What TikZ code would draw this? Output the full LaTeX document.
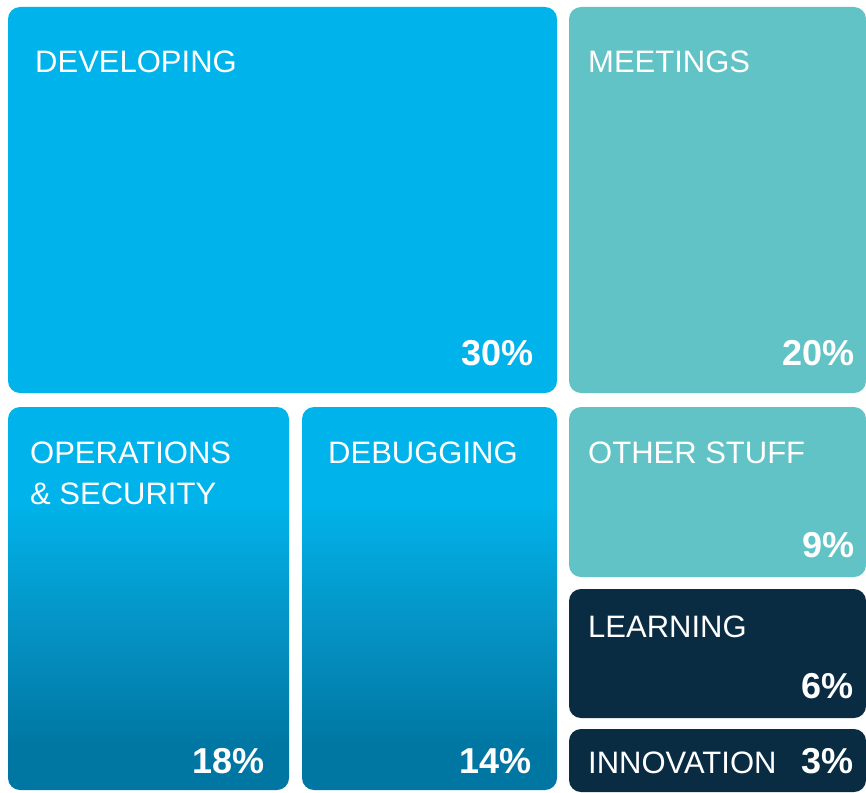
\documentclass[tikz,border=0pt]{standalone}
\usepackage{fontspec}
\setmainfont{Liberation Sans}
\definecolor{cyanbox}{HTML}{00B4EB}
\definecolor{tealbox}{HTML}{62C3C7}
\definecolor{darkbox}{HTML}{0A2C42}
\definecolor{deepblue}{HTML}{0077A3}
\definecolor{midblue}{HTML}{0596C8}
\pgfdeclareverticalshading{opsgrad}{100bp}{color(0bp)=(deepblue); color(31bp)=(deepblue); color(48bp)=(midblue); color(63bp)=(cyanbox); color(100bp)=(cyanbox)}
\tikzset{
  box/.style={rounded corners=12pt},
  lbl/.style={anchor=base west, inner sep=0pt, text=white, font=\fontsize{31}{41}\selectfont, align=left},
  pct/.style={anchor=base east, inner sep=0pt, text=white, font=\bfseries\fontsize{36}{40}\selectfont},
}
\begin{document}
\begin{tikzpicture}[x=1pt,y=-1pt]
\useasboundingbox (0,0) rectangle (866,792);
\fill[white] (0,0) rectangle (866,792);
% boxes
\fill[box, cyanbox] (8,7) rectangle (557,393);
\fill[box, tealbox] (569,7) rectangle (866,393);
\shade[box, shading=opsgrad] (8,407) rectangle (289,790);
\shade[box, shading=opsgrad] (302,407) rectangle (557,790);
\fill[box, tealbox] (569,407) rectangle (866,577);
\fill[box, darkbox] (569,589) rectangle (866,718);
\fill[box, darkbox] (569,729) rectangle (866,792);
% labels
\node[lbl] (dev) at (35,72) {DEVELOPING};
\node[pct] (devp) at (534,365) {30\%};
\node[lbl] (meet) at (588,72) {MEETINGS};
\node[pct] (meetp) at (855,365) {20\%};
\node[lbl] (ops) at (30,463) {OPERATIONS};
\node[lbl] (ops2) at (30,504) {\&\ SECURITY};
\node[pct] (opsp) at (265,773) {18\%};
\node[lbl] (dbg) at (328,463) {DEBUGGING};
\node[pct] (dbgp) at (532,773) {14\%};
\node[lbl] (oth) at (588,463) {OTHER STUFF};
\node[pct] (othp) at (855,557) {9\%};
\node[lbl] (lrn) at (588,637) {LEARNING};
\node[pct] (lrnp) at (854,698) {6\%};
\node[lbl] (inn) at (588,773) {INNOVATION};
\node[pct] (innp) at (854,773) {3\%};
\end{tikzpicture}
\end{document}
